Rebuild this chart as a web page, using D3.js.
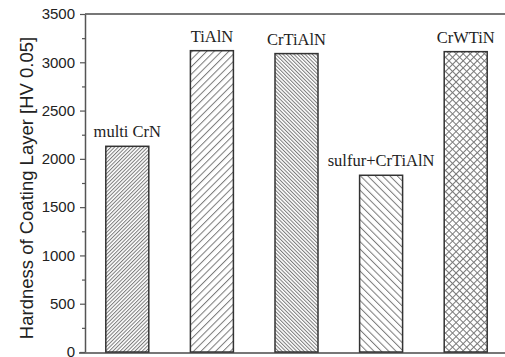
<!DOCTYPE html>
<html>
<head>
<meta charset="utf-8">
<script src="https://cdn.jsdelivr.net/npm/d3@7"></script>
<style>
  html, body { margin: 0; padding: 0; background: #fff; }
  svg { display: block; }
</style>
</head>
<body>
<div id="vis"></div>
<script>
// coating types and measured hardness (HV 0.05)
const categories = ["multi CrN", "TiAlN", "CrTiAlN", "sulfur+CrTiAlN", "CrWTiN"];
const hardness = [2130, 3120, 3090, 1830, 3110];
const yTicks = [0, 500, 1000, 1500, 2000, 2500, 3000, 3500];
const yMinorTicks = [250, 750, 1250, 1750, 2250, 2750, 3250];

const width = 505, height = 357;
const margin = { left: 85, top: 14, bottom: 352 };

const svg = d3.select("#vis").append("svg")
  .attr("width", width)
  .attr("height", height);

// hatch fills, one per bar
const hatches = [
  { id: "h0", angle: 45, gap: 2.6, cross: false },
  { id: "h1", angle: 45, gap: 5.2, cross: false },
  { id: "h2", angle: -45, gap: 2.6, cross: false },
  { id: "h3", angle: -45, gap: 5.2, cross: false },
  { id: "h4", angle: 45, gap: 5, cross: true }
];

const defs = svg.append("defs");
hatches.forEach((h) => {
  const p = defs.append("pattern")
    .attr("id", h.id)
    .attr("patternUnits", "userSpaceOnUse")
    .attr("width", h.gap)
    .attr("height", h.gap)
    .attr("patternTransform", `rotate(${h.angle})`);
  p.append("rect").attr("width", h.gap).attr("height", h.gap).attr("fill", "#fff");
  p.append("line")
    .attr("x1", 0.5).attr("y1", -1).attr("x2", 0.5).attr("y2", h.gap + 1)
    .attr("stroke", "#7a7a7a").attr("stroke-width", 1);
  if (h.cross) {
    p.append("line")
      .attr("x1", -1).attr("y1", 0.5).attr("x2", h.gap + 1).attr("y2", 0.5)
      .attr("stroke", "#7a7a7a").attr("stroke-width", 1);
  }
});

const x = d3.scaleLinear()
  .domain([0.5, categories.length + 0.5])
  .range([margin.left, 508]);
const barW = 43;

const y = d3.scaleLinear()
  .domain([0, 3500])
  .range([margin.bottom, margin.top]);

// frame lines
svg.append("line")
  .attr("x1", margin.left).attr("x2", width)
  .attr("y1", margin.top).attr("y2", margin.top)
  .attr("stroke", "#777").attr("stroke-width", 2);
svg.append("line")
  .attr("x1", 79).attr("x2", width)
  .attr("y1", margin.bottom + 1).attr("y2", margin.bottom + 1)
  .attr("stroke", "#777").attr("stroke-width", 2);

// minor ticks
svg.append("g")
  .attr("transform", `translate(${margin.left},0)`)
  .call(d3.axisLeft(y).tickValues(yMinorTicks).tickSize(3).tickFormat(""))
  .call((g) => g.select(".domain").remove())
  .selectAll("line").attr("stroke", "#555").attr("stroke-width", 1.2);

// major axis
const yAxis = svg.append("g")
  .attr("transform", `translate(${margin.left},0)`)
  .call(d3.axisLeft(y).tickValues(yTicks).tickSize(5).tickSizeOuter(0)
    .tickPadding(5).tickFormat(d3.format("d")));
yAxis.select(".domain").attr("stroke", "#555").attr("stroke-width", 1.5);
yAxis.selectAll(".tick line").attr("stroke", "#555").attr("stroke-width", 1.2);
yAxis.selectAll(".tick text")
  .attr("font-family", "'Liberation Sans', Arial, sans-serif")
  .attr("font-size", 15)
  .attr("fill", "#222");

svg.append("text")
  .attr("transform", "translate(33,188) rotate(-90)")
  .attr("text-anchor", "middle")
  .attr("font-family", "'Liberation Sans', Arial, sans-serif")
  .attr("font-size", 18.5)
  .attr("fill", "#222")
  .text("Hardness of Coating Layer [HV 0.05]");

const data = categories.map((name, i) => ({ name, value: hardness[i], i: i + 1 }));

svg.append("g").selectAll("rect")
  .data(data)
  .join("rect")
  .attr("x", (d) => x(d.i) - barW / 2)
  .attr("y", (d) => y(d.value))
  .attr("width", barW)
  .attr("height", (d) => y(0) - y(d.value))
  .attr("fill", (d, i) => `url(#${hatches[i].id})`)
  .attr("stroke", "#333")
  .attr("stroke-width", 1.5);

svg.append("g").selectAll("text")
  .data(data)
  .join("text")
  .attr("x", (d) => x(d.i))
  .attr("y", (d) => y(d.value) - 9)
  .attr("text-anchor", "middle")
  .attr("font-family", "'Liberation Serif', 'Times New Roman', serif")
  .attr("font-size", 16.5)
  .attr("fill", "#222")
  .text((d) => d.name);
</script>
</body>
</html>
